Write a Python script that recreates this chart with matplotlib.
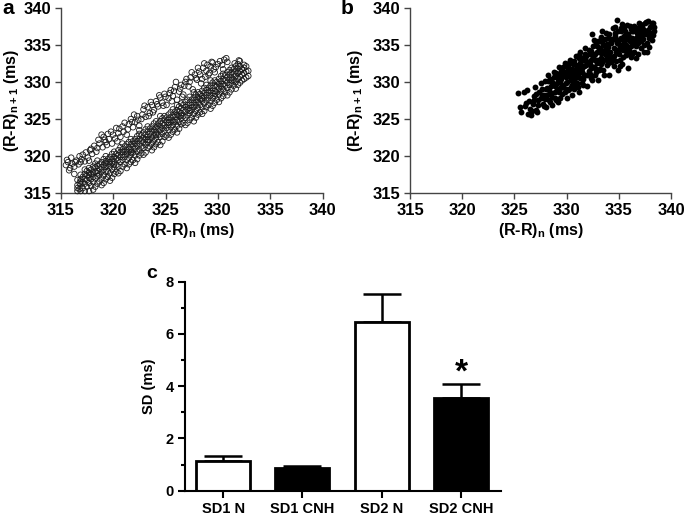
import matplotlib
matplotlib.use("Agg")
import matplotlib.pyplot as plt
import numpy as np

plt.rcParams['font.family'] = ['Liberation Sans', 'DejaVu Sans']
plt.rcParams['font.weight'] = 'bold'
plt.rcParams['mathtext.default'] = 'regular'

# ---------------- data ----------------
# Panel a: Poincare plot, normoxia (hollow circles), (RR_n, RR_n+1) in ms
a_lower = [
    (316.6, 315.3), (316.6, 316.1), (316.6, 316.8), (316.6, 315.7),
    (316.9, 315.3), (316.9, 316.2), (316.9, 316.9), (316.9, 317.5), (316.9, 316.6),
    (317.3, 315.3), (317.3, 316.3), (317.3, 316.9), (317.3, 317.6), (317.3, 318.2),
    (317.7, 315.3), (317.7, 316.4), (317.7, 317.1), (317.7, 317.8), (317.7, 318.4), (317.7, 317.5),
    (318.1, 315.5), (318.1, 316.5), (318.1, 317.2), (318.1, 317.8), (318.1, 318.6),
    (318.5, 316.3), (318.5, 317.3), (318.5, 318.0), (318.5, 318.7), (318.5, 319.4), (318.5, 317.7),
    (318.9, 316.1), (318.9, 317.0), (318.9, 317.9), (318.9, 318.5), (318.9, 319.2),
    (319.3, 316.9), (319.3, 317.9), (319.3, 318.6), (319.3, 319.3), (319.3, 320.0), (319.3, 319.1),
    (319.7, 316.7), (319.7, 317.7), (319.7, 318.6), (319.7, 319.2), (319.7, 319.9),
    (320.1, 317.6), (320.1, 318.5), (320.1, 319.3), (320.1, 319.9), (320.1, 320.6), (320.1, 318.9),
    (320.5, 317.7), (320.5, 318.6), (320.5, 319.5), (320.5, 320.1), (320.5, 320.8),
    (320.9, 318.6), (320.9, 319.5), (320.9, 320.2), (320.9, 320.9), (320.9, 321.7), (320.9, 320.6),
    (321.3, 318.4), (321.3, 319.5), (321.3, 320.3), (321.3, 320.8), (321.3, 321.6),
    (321.7, 319.2), (321.7, 320.2), (321.7, 320.9), (321.7, 321.6), (321.7, 322.3), (321.7, 320.5),
    (322.1, 319.1), (322.1, 320.1), (322.1, 321.0), (322.1, 321.7), (322.1, 322.3),
    (322.5, 320.1), (322.5, 320.9), (322.5, 321.7), (322.5, 322.3), (322.5, 323.0), (322.5, 323.5),
    (322.9, 320.2), (322.9, 321.1), (322.9, 321.9), (322.9, 322.4), (322.9, 323.2),
    (323.3, 321.1), (323.3, 321.9), (323.3, 322.6), (323.3, 323.3), (323.3, 324.0), (323.3, 322.2),
    (323.7, 320.8), (323.7, 321.7), (323.7, 322.5), (323.7, 323.3), (323.7, 324.0),
    (324.1, 321.6), (324.1, 322.5), (324.1, 323.3), (324.1, 323.9), (324.1, 324.7), (324.1, 322.9),
    (324.5, 321.5), (324.5, 322.6), (324.5, 323.5), (324.5, 324.0), (324.5, 324.7), (324.5, 325.4),
    (324.9, 322.6), (324.9, 323.4), (324.9, 324.2), (324.9, 324.9), (324.9, 325.4),
    (325.3, 322.5), (325.3, 323.5), (325.3, 324.2), (325.3, 324.9), (325.3, 325.6), (325.3, 324.5),
    (325.7, 323.3), (325.7, 324.2), (325.7, 324.8), (325.7, 325.5), (325.7, 326.3),
    (326.1, 323.2), (326.1, 324.1), (326.1, 324.9), (326.1, 325.6), (326.1, 326.2), (326.1, 326.9),
    (326.5, 324.3), (326.5, 325.1), (326.5, 325.8), (326.5, 326.5), (326.5, 327.1), (326.5, 325.5),
    (326.9, 324.2), (326.9, 325.2), (326.9, 326.0), (326.9, 326.6), (326.9, 327.3),
    (327.3, 324.9), (327.3, 325.8), (327.3, 326.5), (327.3, 327.2), (327.3, 328.0), (327.3, 326.1),
    (327.7, 324.7), (327.7, 325.7), (327.7, 326.6), (327.7, 327.2), (327.7, 327.9), (327.7, 328.6),
    (328.1, 325.6), (328.1, 326.5), (328.1, 327.3), (328.1, 327.9), (328.1, 328.6),
    (328.5, 325.7), (328.5, 326.6), (328.5, 327.5), (328.5, 328.1), (328.5, 328.8), (328.5, 327.8),
    (328.9, 326.6), (328.9, 327.5), (328.9, 328.2), (328.9, 328.9), (328.9, 329.6),
    (329.3, 326.4), (329.3, 327.4), (329.3, 328.2), (329.3, 328.8), (329.3, 329.5), (329.3, 330.2),
    (329.7, 327.2), (329.7, 328.1), (329.7, 328.8), (329.7, 329.5), (329.7, 330.2), (329.7, 328.4),
    (330.1, 327.3), (330.1, 328.3), (330.1, 329.1), (330.1, 329.7), (330.1, 330.4),
    (330.5, 328.1), (330.5, 329.0), (330.5, 329.7), (330.5, 330.4), (330.5, 331.1), (330.5, 331.7),
    (330.9, 328.2), (330.9, 329.2), (330.9, 329.9), (330.9, 330.6), (330.9, 331.3),
    (331.3, 329.0), (331.3, 329.9), (331.3, 330.6), (331.3, 331.3), (331.3, 331.9), (331.3, 330.2),
    (331.7, 329.1), (331.7, 330.0), (331.7, 330.8), (331.7, 331.4), (331.7, 332.1),
    (332.1, 329.9), (332.1, 330.7), (332.1, 331.4), (332.1, 332.1), (332.1, 332.8),
    (332.5, 330.4), (332.5, 331.2), (332.5, 331.9), (332.5, 332.3),
    (332.9, 330.8), (332.9, 331.5),
    (316.8, 315.6), (316.8, 316.4),
    (317.1, 315.7), (317.1, 316.5), (317.1, 317.2),
    (317.5, 315.9), (317.5, 316.8), (317.5, 317.4), (317.5, 318.0),
    (317.9, 316.0), (317.9, 316.9), (317.9, 317.6), (317.9, 318.2),
    (318.3, 315.9), (318.3, 317.0), (318.3, 317.9), (318.3, 318.5), (318.3, 319.0),
    (318.7, 316.6), (318.7, 317.5), (318.7, 318.3), (318.7, 318.9),
    (319.1, 316.4), (319.1, 317.4), (319.1, 318.2), (319.1, 318.8), (319.1, 319.6),
    (319.5, 317.2), (319.5, 318.0), (319.5, 318.9), (319.5, 319.6),
    (319.9, 317.1), (319.9, 318.2), (319.9, 319.0), (319.9, 319.6), (319.9, 320.3),
    (320.3, 317.9), (320.3, 318.8), (320.3, 319.7), (320.3, 320.3),
    (320.7, 318.0), (320.7, 319.2), (320.7, 319.9), (320.7, 320.5), (320.7, 321.2),
    (321.1, 318.9), (321.1, 319.9), (321.1, 320.6), (321.1, 321.3),
    (321.5, 318.9), (321.5, 319.8), (321.5, 320.6), (321.5, 321.2), (321.5, 321.9),
    (321.9, 319.5), (321.9, 320.5), (321.9, 321.3), (321.9, 322.0),
    (322.3, 319.6), (322.3, 320.6), (322.3, 321.4), (322.3, 322.0), (322.3, 322.7),
    (322.7, 320.4), (322.7, 321.3), (322.7, 322.1), (322.7, 322.8),
    (323.1, 320.5), (323.1, 321.5), (323.1, 322.3), (323.1, 322.9), (323.1, 323.6),
    (323.5, 321.3), (323.5, 322.2), (323.5, 323.0), (323.5, 323.7),
    (323.9, 321.2), (323.9, 322.1), (323.9, 322.9), (323.9, 323.6), (323.9, 324.4),
    (324.3, 321.9), (324.3, 322.9), (324.3, 323.7), (324.3, 324.4),
    (324.7, 322.0), (324.7, 323.0), (324.7, 323.8), (324.7, 324.4), (324.7, 325.1),
    (325.1, 322.8), (325.1, 323.8), (325.1, 324.6), (325.1, 325.2),
    (325.5, 322.9), (325.5, 323.9), (325.5, 324.6), (325.5, 325.2), (325.5, 325.9),
    (325.9, 323.6), (325.9, 324.6), (325.9, 325.3), (325.9, 326.0),
    (326.3, 323.7), (326.3, 324.6), (326.3, 325.4), (326.3, 326.0), (326.3, 326.7),
    (326.7, 324.5), (326.7, 325.4), (326.7, 326.2), (326.7, 326.9),
    (327.1, 324.5), (327.1, 325.5), (327.1, 326.3), (327.1, 326.9), (327.1, 327.6),
    (327.5, 325.2), (327.5, 326.2), (327.5, 326.9), (327.5, 327.6),
    (327.9, 325.2), (327.9, 326.1), (327.9, 326.9), (327.9, 327.6), (327.9, 328.3),
    (328.3, 325.9), (328.3, 326.9), (328.3, 327.7), (328.3, 328.4),
    (328.7, 326.1), (328.7, 327.1), (328.7, 327.9), (328.7, 328.5), (328.7, 329.2),
    (329.1, 326.9), (329.1, 327.8), (329.1, 328.6), (329.1, 329.2),
    (329.5, 326.8), (329.5, 327.8), (329.5, 328.5), (329.5, 329.2), (329.5, 329.9),
    (329.9, 327.6), (329.9, 328.6), (329.9, 329.4), (329.9, 330.0),
    (330.3, 327.8), (330.3, 328.7), (330.3, 329.4), (330.3, 330.1), (330.3, 330.8),
    (330.7, 328.6), (330.7, 329.5), (330.7, 330.2), (330.7, 330.9),
    (331.1, 328.6), (331.1, 329.6), (331.1, 330.3), (331.1, 331.0), (331.1, 331.6),
    (331.5, 329.5), (331.5, 330.3), (331.5, 331.1), (331.5, 331.7),
    (331.9, 329.6), (331.9, 330.4), (331.9, 331.2), (331.9, 331.8), (331.9, 332.4),
    (332.3, 330.2), (332.3, 331.0), (332.3, 331.7),
    (332.7, 330.6), (332.7, 331.4), (332.7, 332.1),
]
a_upper = [
    (315.5, 318.8), (315.7, 319.2), (315.9, 318.4), (316.1, 319.0), (316.3, 318.6),
    (316.5, 319.4), (316.7, 318.9), (317.0, 319.6), (316.8, 320.0), (316.3, 317.6),
    (317.3, 319.3), (317.6, 319.8), (317.8, 320.8), (318.0, 320.3), (317.9, 321.0),
    (318.4, 320.6), (318.7, 321.7), (318.6, 322.2), (319.0, 321.2), (319.1, 322.6),
    (319.3, 321.9), (319.5, 323.0), (319.6, 322.3), (319.9, 321.7),
    (320.2, 322.4), (320.3, 323.8), (320.5, 323.1), (320.7, 322.6), (320.9, 324.0),
    (321.0, 323.3), (321.3, 322.9),
    (321.5, 324.3), (321.7, 325.0), (321.9, 323.9), (322.1, 324.6), (322.3, 325.4),
    (322.5, 324.1), (322.7, 325.0),
    (322.9, 326.3), (323.1, 325.3), (323.3, 326.6), (323.5, 325.8), (323.7, 326.9),
    (323.9, 326.2), (324.1, 327.4),
    (324.3, 326.7), (324.5, 327.9), (324.7, 327.2), (324.9, 328.4), (325.1, 326.9),
    (325.3, 327.8), (325.5, 328.9),
    (325.7, 328.1), (325.9, 329.3), (326.1, 327.6), (326.3, 328.7), (326.5, 329.6),
    (326.7, 328.3), (326.9, 330.0),
    (327.2, 329.4), (327.4, 330.6), (327.6, 329.0), (327.8, 331.0), (328.0, 330.3),
    (328.2, 331.4), (328.4, 329.8),
    (328.6, 331.9), (328.8, 330.7), (329.0, 332.3), (329.2, 331.2), (329.4, 332.7),
    (329.6, 331.7), (329.8, 332.0),
    (330.2, 332.8), (330.6, 333.0), (330.9, 332.7), (331.6, 332.5), (332.0, 332.9),
    (315.6, 319.5), (315.8, 318.1), (316.0, 319.8), (316.4, 319.2), (316.9, 319.2),
    (317.1, 320.2), (317.4, 320.5), (317.7, 319.4), (318.2, 321.4), (318.5, 321.1),
    (318.9, 322.9), (319.2, 322.2), (319.4, 321.5), (319.8, 323.3), (320.0, 322.9),
    (320.4, 322.0), (320.6, 323.7), (321.1, 324.5), (321.4, 323.6), (321.8, 324.6),
    (322.0, 325.6), (322.4, 324.9), (322.8, 325.6), (323.0, 326.8), (323.4, 325.4),
    (323.6, 327.3), (323.8, 325.9), (324.2, 327.0), (324.4, 328.2), (324.8, 326.8),
    (325.0, 328.0), (325.4, 328.5), (325.6, 327.4), (325.8, 328.8), (326.0, 330.0),
    (326.4, 329.1), (326.6, 328.0), (326.8, 329.5), (327.0, 330.4), (327.3, 330.0),
    (327.5, 331.3), (327.9, 330.5), (328.1, 331.9), (328.3, 331.0), (328.5, 330.4),
    (328.7, 332.5), (328.9, 331.5), (329.1, 331.0), (329.3, 332.1), (329.5, 332.6),
    (329.7, 331.3), (330.0, 332.4), (330.4, 332.3), (330.8, 333.2),
]

# Panel b: Poincare plot, CNH (filled dots)
b_points = [
    (325.3, 328.5), (325.5, 326.6), (325.6, 326.0), (325.9, 328.7), (326.1, 327.2),
    (326.3, 325.7), (326.6, 325.5), (326.2, 328.9), (326.5, 326.4),
    (326.8, 327.0), (326.9, 328.1), (327.0, 329.3), (327.1, 326.2), (327.3, 327.6),
    (327.2, 325.9), (327.4, 328.6), (327.5, 329.8),
    (327.7, 327.0), (327.8, 328.2), (327.9, 330.1), (328.0, 326.6), (328.1, 329.2),
    (328.2, 331.0), (328.3, 327.6), (328.4, 330.4),
    (328.5, 328.5), (328.6, 326.9), (328.7, 329.7), (328.8, 331.4), (328.9, 327.9),
    (329.0, 330.8), (329.1, 328.9), (329.2, 327.3), (329.3, 332.0),
    (329.4, 330.0), (329.5, 331.5), (329.6, 328.4), (329.7, 329.3), (329.8, 332.5),
    (329.9, 330.6), (330.0, 327.8), (330.1, 331.9), (330.2, 329.0), (330.3, 333.0),
    (330.4, 330.2), (330.5, 328.3), (330.6, 332.4), (330.7, 331.1), (330.8, 329.5),
    (330.9, 333.5), (331.0, 330.6), (331.1, 332.0), (331.2, 328.7),
    (331.3, 334.0), (331.4, 331.6), (331.5, 329.9), (331.6, 333.1), (331.7, 330.9),
    (331.8, 334.6), (331.9, 332.3), (332.0, 329.5), (332.1, 331.5),
    (332.2, 333.7), (332.3, 330.5), (332.4, 336.4), (332.5, 334.9), (332.6, 332.0),
    (332.7, 331.0), (332.8, 335.3), (332.9, 333.0), (333.0, 330.2),
    (333.1, 334.3), (333.2, 331.8), (333.3, 336.0), (333.4, 332.7), (333.5, 335.0),
    (333.6, 331.0), (333.7, 333.8), (333.8, 336.6), (333.9, 332.3),
    (334.0, 334.7), (334.1, 330.9), (334.2, 335.8), (334.3, 333.4), (334.4, 337.2),
    (334.5, 332.1), (334.6, 336.2), (334.7, 334.1), (334.8, 338.3),
    (334.9, 331.6), (335.0, 335.1), (335.1, 333.0), (335.2, 336.8), (335.3, 332.4),
    (335.4, 334.3), (335.5, 337.4), (335.6, 335.7), (335.7, 333.6),
    (335.8, 336.3), (335.9, 331.9), (336.0, 334.6), (336.1, 337.6), (336.2, 333.3),
    (336.3, 335.9), (336.4, 336.9), (336.5, 334.1), (336.6, 333.2),
    (336.7, 337.3), (336.8, 335.4), (336.9, 338.0), (337.0, 336.3), (337.1, 334.6),
    (337.2, 337.7), (337.3, 335.8), (337.4, 334.0), (337.5, 336.8),
    (337.6, 338.1), (337.7, 335.2), (337.8, 337.0), (337.9, 334.7), (338.0, 336.2),
    (338.1, 337.6), (338.2, 335.7), (338.3, 337.9), (338.4, 336.9),
    (327.6, 328.3), (328.0, 329.0), (328.3, 328.9), (328.6, 330.0), (328.9, 329.5),
    (329.2, 330.4), (329.4, 329.2), (329.7, 330.9), (329.9, 329.8), (330.2, 331.2),
    (330.4, 330.8), (330.6, 330.0), (330.9, 331.7), (331.1, 331.0), (331.3, 332.5),
    (331.5, 331.3), (331.7, 332.2), (331.9, 333.5), (332.1, 332.7), (332.3, 331.9),
    (332.5, 333.4), (332.7, 332.9), (332.9, 334.1), (333.1, 333.0), (333.3, 333.9),
    (333.5, 332.9), (333.7, 334.8), (333.9, 334.3), (334.1, 333.6), (334.3, 335.2),
    (334.5, 334.6), (334.7, 335.6), (334.9, 334.0), (335.1, 335.8), (335.3, 334.9),
    (335.5, 336.2), (335.7, 335.0), (335.9, 336.4), (336.1, 335.5), (336.3, 336.8),
    (336.5, 335.8), (336.7, 336.1), (336.9, 337.0), (337.1, 337.4), (337.3, 336.6),
    (329.0, 331.2), (329.6, 331.8), (330.1, 332.3), (330.7, 332.8), (331.2, 333.2),
    (331.8, 333.8), (332.3, 334.2), (332.9, 334.8), (333.4, 335.4), (334.0, 335.9),
    (334.6, 336.6), (335.2, 337.3),
    (329.3, 328.6), (329.9, 329.1), (330.5, 329.6), (331.0, 329.9), (331.6, 330.4),
    (332.2, 331.1), (332.8, 331.7), (333.3, 332.4), (333.9, 333.0), (334.4, 333.0),
    (335.0, 333.8), (335.6, 334.4), (336.2, 334.9), (336.8, 335.2),
    (326.0, 326.8), (326.4, 327.5), (326.7, 326.1), (326.9, 327.6), (327.1, 328.4),
    (327.3, 326.9), (327.5, 327.8), (327.6, 329.1), (327.8, 326.7), (327.9, 327.7),
    (328.1, 328.2), (328.2, 330.1), (328.4, 327.3), (328.5, 329.4), (328.6, 328.0),
    (328.8, 330.6), (328.9, 328.7), (329.0, 327.6), (329.1, 329.8), (329.2, 331.0),
    (329.3, 329.0), (329.4, 327.8), (329.5, 330.4), (329.6, 329.6), (329.7, 332.0),
    (329.8, 328.6), (329.9, 331.3), (330.0, 330.0), (330.1, 328.9), (330.2, 332.6),
    (330.3, 330.7), (330.4, 329.3), (330.5, 331.8), (330.6, 331.2), (330.7, 329.0),
    (330.8, 330.5), (330.9, 332.3), (331.0, 331.4), (331.1, 329.3), (331.2, 333.6),
    (331.3, 330.5), (331.4, 332.8), (331.5, 331.9), (331.6, 329.6), (331.7, 333.4),
    (331.8, 331.0), (331.9, 332.8), (332.0, 330.9), (332.1, 334.3), (332.2, 332.4),
    (332.3, 333.0), (332.4, 330.3), (332.5, 332.0), (332.6, 335.6), (332.7, 333.8),
    (332.8, 331.3), (332.9, 332.5), (333.0, 335.5), (333.1, 331.6), (333.2, 334.6),
    (333.3, 333.2), (333.4, 336.8), (333.5, 331.6), (333.6, 334.2), (333.7, 335.8),
    (333.8, 333.1), (333.9, 335.1), (334.0, 332.5), (334.1, 336.5), (334.2, 334.1),
    (334.3, 332.7), (334.4, 335.8), (334.5, 333.5), (334.6, 337.4), (334.7, 332.8),
    (334.8, 335.2), (334.9, 336.9), (335.0, 334.4), (335.1, 332.2), (335.2, 335.9),
    (335.3, 337.8), (335.4, 333.3), (335.5, 335.4), (335.6, 336.8), (335.7, 334.2),
    (335.8, 337.7), (335.9, 333.9), (336.0, 336.0), (336.1, 334.1), (336.2, 337.1),
    (336.3, 333.8), (336.4, 335.3), (336.5, 337.5), (336.6, 334.9), (336.7, 336.6),
    (336.8, 333.7), (336.9, 336.0), (337.0, 337.8), (337.1, 335.5), (337.2, 336.2),
    (337.3, 337.1), (337.4, 335.0), (337.5, 337.9), (337.6, 336.4), (337.7, 334.0),
    (337.8, 338.2), (337.9, 335.9), (338.0, 337.4), (338.1, 336.6), (338.2, 338.0),
    (338.3, 336.3), (338.4, 337.4),
]

rr_ticks = [315, 320, 325, 330, 335, 340]

# Panel c: SD1/SD2 bars
bar_labels = ["SD1 N", "SD1 CNH", "SD2 N", "SD2 CNH"]
bar_values = [1.15, 0.85, 6.45, 3.55]
bar_errors = [0.17, 0.10, 1.07, 0.52]
bar_colors = ["white", "black", "white", "black"]
sd_ticks = [0, 2, 4, 6, 8]

# ---------------- figure ----------------
fig = plt.figure(figsize=(6.85, 5.15), dpi=100)

W, H = 685, 515
def box(l, t, r, b):
    return [l / W, 1 - b / H, (r - l) / W, (b - t) / H]

ax_a = fig.add_axes(box(60.7, 7.7, 322.7, 193.3))
ax_b = fig.add_axes(box(410, 7.7, 671, 193.3))
ax_c = fig.add_axes(box(185, 281.7, 500.7, 490.7))

axis_col = '#444444'
tick_fs = 12
lab_fs = 11.5

def style_rr(ax, ylab_x):
    ax.set_xlim(315, 340)
    ax.set_ylim(315, 340)
    ax.set_xticks(rr_ticks)
    ax.set_yticks(rr_ticks)
    for s in ['top', 'right']:
        ax.spines[s].set_visible(False)
    for s in ['left', 'bottom']:
        ax.spines[s].set_color(axis_col)
        ax.spines[s].set_linewidth(1.0)
    ax.tick_params(direction='out', length=4, width=1.0, color=axis_col,
                   labelsize=tick_fs, pad=3)
    for lab in ax.get_xticklabels() + ax.get_yticklabels():
        lab.set_fontweight('bold')
    ax.set_xlabel(r'(R-R)$_\mathregular{n}$ (ms)', fontsize=lab_fs,
                  fontweight='bold', labelpad=2)
    ax.set_ylabel(r'(R-R)$_\mathregular{n+1}$ (ms)', fontsize=lab_fs,
                  fontweight='bold', va='center')
    ax.yaxis.set_label_coords(ylab_x, 0.5)

a_pts = a_lower + a_upper
ax_a.scatter([p[0] for p in a_pts], [p[1] for p in a_pts], s=16,
             facecolors='none', edgecolors='#1a1a1a', linewidths=0.6,
             clip_on=False, zorder=3)
style_rr(ax_a, (11.5 - 60.7) / 262.0)

ax_b.scatter([p[0] for p in b_points], [p[1] for p in b_points], s=18,
             color='black', linewidths=0, clip_on=False, zorder=3)
style_rr(ax_b, (355 - 410) / 261.0)

# Bars
c_fs = 10.5
xpos = np.arange(len(bar_labels))
ax_c.errorbar(xpos, bar_values, yerr=[[0] * 4, bar_errors], fmt='none',
              ecolor='black', elinewidth=1.8, capsize=14, capthick=1.8,
              zorder=1)
ax_c.bar(xpos, bar_values, width=0.68, color=bar_colors, edgecolor='black',
         linewidth=2.0, zorder=2)
ax_c.text(xpos[3], bar_values[3] + bar_errors[3] + 0.42, '*', ha='center',
          va='center', fontsize=24, fontweight='bold')
ax_c.set_xlim(-0.48, 3.5)
ax_c.set_ylim(0, 8)
ax_c.set_yticks(sd_ticks)
ax_c.set_yticks([1, 3, 5, 7], minor=True)
ax_c.set_xticks(xpos)
ax_c.set_xticklabels(bar_labels, fontsize=c_fs, fontweight='bold')
for lab in ax_c.get_yticklabels():
    lab.set_fontweight('bold')
for s in ['top', 'right']:
    ax_c.spines[s].set_visible(False)
for s in ['left', 'bottom']:
    ax_c.spines[s].set_linewidth(1.5)
ax_c.tick_params(which='major', direction='out', length=5, width=1.5,
                 labelsize=c_fs, pad=3)
ax_c.tick_params(which='minor', direction='out', length=3, width=1.5)
ax_c.set_ylabel('SD (ms)', fontsize=10.5, fontweight='bold', va='center')
ax_c.yaxis.set_label_coords((149 - 185) / 315.7, 0.5)

# Panel letters
fig.text(8 / W, 1 - 8 / H, 'a', fontsize=15, fontweight='bold',
         ha='center', va='center')
fig.text(347 / W, 1 - 8 / H, 'b', fontsize=15, fontweight='bold',
         ha='center', va='center')
fig.text(152 / W, 1 - 274 / H, 'c', fontsize=14, fontweight='bold',
         ha='center', va='center')

fig.savefig('out.png', dpi=100)
